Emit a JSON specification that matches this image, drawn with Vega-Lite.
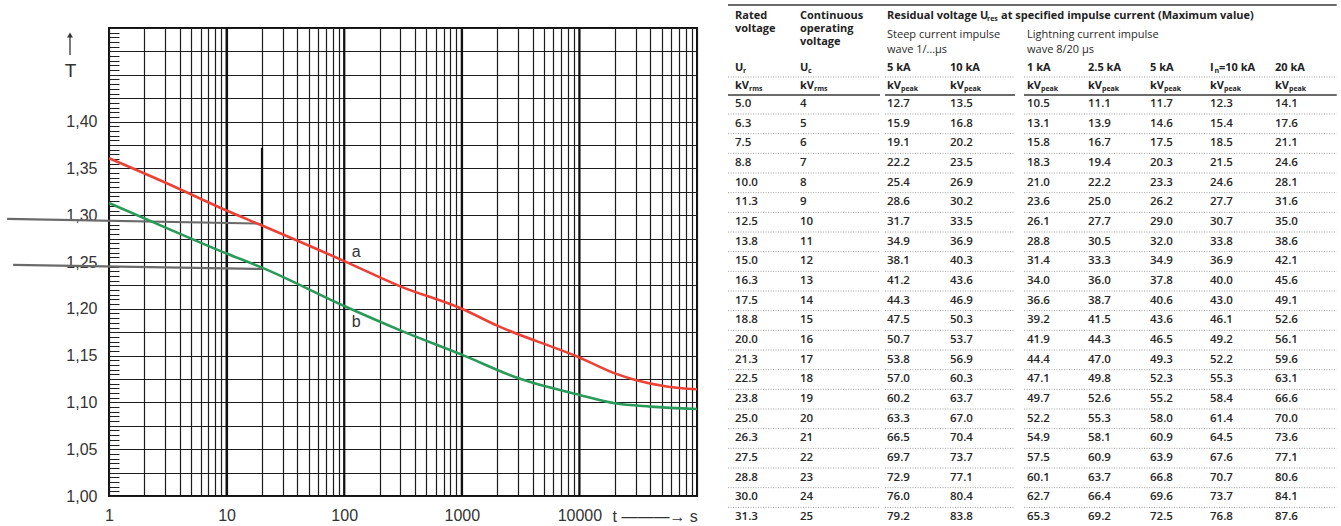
{
  "$schema": "https://vega.github.io/schema/vega-lite/v6.json",
  "background": "white",
  "padding": {"left": 1, "top": 4, "right": 0, "bottom": 0},
  "spacing": 16,
  "datasets": {
    "curves": [
      {"s": "a", "t": 1, "T": 1.361}, {"s": "a", "t": 3, "T": 1.335}, {"s": "a", "t": 10, "T": 1.305},
      {"s": "a", "t": 20, "T": 1.289}, {"s": "a", "t": 100, "T": 1.251}, {"s": "a", "t": 300, "T": 1.224},
      {"s": "a", "t": 1000, "T": 1.2}, {"s": "a", "t": 2000, "T": 1.182}, {"s": "a", "t": 10000, "T": 1.148},
      {"s": "a", "t": 20000, "T": 1.131}, {"s": "a", "t": 30000, "T": 1.124}, {"s": "a", "t": 55000, "T": 1.117},
      {"s": "a", "t": 100000, "T": 1.114},
      {"s": "b", "t": 1, "T": 1.313}, {"s": "b", "t": 3, "T": 1.287}, {"s": "b", "t": 10, "T": 1.259},
      {"s": "b", "t": 20, "T": 1.244}, {"s": "b", "t": 100, "T": 1.203}, {"s": "b", "t": 300, "T": 1.177},
      {"s": "b", "t": 1000, "T": 1.151}, {"s": "b", "t": 3000, "T": 1.126}, {"s": "b", "t": 10000, "T": 1.108},
      {"s": "b", "t": 20000, "T": 1.099}, {"s": "b", "t": 40000, "T": 1.0955}, {"s": "b", "t": 100000, "T": 1.093}
    ],
    "tab": [
      {"r":1,"c":1,"v":5.0},{"r":1,"c":2,"v":4},{"r":1,"c":3,"v":12.7},{"r":1,"c":4,"v":13.5},{"r":1,"c":5,"v":10.5},{"r":1,"c":6,"v":11.1},{"r":1,"c":7,"v":11.7},{"r":1,"c":8,"v":12.3},{"r":1,"c":9,"v":14.1},
      {"r":2,"c":1,"v":6.3},{"r":2,"c":2,"v":5},{"r":2,"c":3,"v":15.9},{"r":2,"c":4,"v":16.8},{"r":2,"c":5,"v":13.1},{"r":2,"c":6,"v":13.9},{"r":2,"c":7,"v":14.6},{"r":2,"c":8,"v":15.4},{"r":2,"c":9,"v":17.6},
      {"r":3,"c":1,"v":7.5},{"r":3,"c":2,"v":6},{"r":3,"c":3,"v":19.1},{"r":3,"c":4,"v":20.2},{"r":3,"c":5,"v":15.8},{"r":3,"c":6,"v":16.7},{"r":3,"c":7,"v":17.5},{"r":3,"c":8,"v":18.5},{"r":3,"c":9,"v":21.1},
      {"r":4,"c":1,"v":8.8},{"r":4,"c":2,"v":7},{"r":4,"c":3,"v":22.2},{"r":4,"c":4,"v":23.5},{"r":4,"c":5,"v":18.3},{"r":4,"c":6,"v":19.4},{"r":4,"c":7,"v":20.3},{"r":4,"c":8,"v":21.5},{"r":4,"c":9,"v":24.6},
      {"r":5,"c":1,"v":10.0},{"r":5,"c":2,"v":8},{"r":5,"c":3,"v":25.4},{"r":5,"c":4,"v":26.9},{"r":5,"c":5,"v":21.0},{"r":5,"c":6,"v":22.2},{"r":5,"c":7,"v":23.3},{"r":5,"c":8,"v":24.6},{"r":5,"c":9,"v":28.1},
      {"r":6,"c":1,"v":11.3},{"r":6,"c":2,"v":9},{"r":6,"c":3,"v":28.6},{"r":6,"c":4,"v":30.2},{"r":6,"c":5,"v":23.6},{"r":6,"c":6,"v":25.0},{"r":6,"c":7,"v":26.2},{"r":6,"c":8,"v":27.7},{"r":6,"c":9,"v":31.6},
      {"r":7,"c":1,"v":12.5},{"r":7,"c":2,"v":10},{"r":7,"c":3,"v":31.7},{"r":7,"c":4,"v":33.5},{"r":7,"c":5,"v":26.1},{"r":7,"c":6,"v":27.7},{"r":7,"c":7,"v":29.0},{"r":7,"c":8,"v":30.7},{"r":7,"c":9,"v":35.0},
      {"r":8,"c":1,"v":13.8},{"r":8,"c":2,"v":11},{"r":8,"c":3,"v":34.9},{"r":8,"c":4,"v":36.9},{"r":8,"c":5,"v":28.8},{"r":8,"c":6,"v":30.5},{"r":8,"c":7,"v":32.0},{"r":8,"c":8,"v":33.8},{"r":8,"c":9,"v":38.6},
      {"r":9,"c":1,"v":15.0},{"r":9,"c":2,"v":12},{"r":9,"c":3,"v":38.1},{"r":9,"c":4,"v":40.3},{"r":9,"c":5,"v":31.4},{"r":9,"c":6,"v":33.3},{"r":9,"c":7,"v":34.9},{"r":9,"c":8,"v":36.9},{"r":9,"c":9,"v":42.1},
      {"r":10,"c":1,"v":16.3},{"r":10,"c":2,"v":13},{"r":10,"c":3,"v":41.2},{"r":10,"c":4,"v":43.6},{"r":10,"c":5,"v":34.0},{"r":10,"c":6,"v":36.0},{"r":10,"c":7,"v":37.8},{"r":10,"c":8,"v":40.0},{"r":10,"c":9,"v":45.6},
      {"r":11,"c":1,"v":17.5},{"r":11,"c":2,"v":14},{"r":11,"c":3,"v":44.3},{"r":11,"c":4,"v":46.9},{"r":11,"c":5,"v":36.6},{"r":11,"c":6,"v":38.7},{"r":11,"c":7,"v":40.6},{"r":11,"c":8,"v":43.0},{"r":11,"c":9,"v":49.1},
      {"r":12,"c":1,"v":18.8},{"r":12,"c":2,"v":15},{"r":12,"c":3,"v":47.5},{"r":12,"c":4,"v":50.3},{"r":12,"c":5,"v":39.2},{"r":12,"c":6,"v":41.5},{"r":12,"c":7,"v":43.6},{"r":12,"c":8,"v":46.1},{"r":12,"c":9,"v":52.6},
      {"r":13,"c":1,"v":20.0},{"r":13,"c":2,"v":16},{"r":13,"c":3,"v":50.7},{"r":13,"c":4,"v":53.7},{"r":13,"c":5,"v":41.9},{"r":13,"c":6,"v":44.3},{"r":13,"c":7,"v":46.5},{"r":13,"c":8,"v":49.2},{"r":13,"c":9,"v":56.1},
      {"r":14,"c":1,"v":21.3},{"r":14,"c":2,"v":17},{"r":14,"c":3,"v":53.8},{"r":14,"c":4,"v":56.9},{"r":14,"c":5,"v":44.4},{"r":14,"c":6,"v":47.0},{"r":14,"c":7,"v":49.3},{"r":14,"c":8,"v":52.2},{"r":14,"c":9,"v":59.6},
      {"r":15,"c":1,"v":22.5},{"r":15,"c":2,"v":18},{"r":15,"c":3,"v":57.0},{"r":15,"c":4,"v":60.3},{"r":15,"c":5,"v":47.1},{"r":15,"c":6,"v":49.8},{"r":15,"c":7,"v":52.3},{"r":15,"c":8,"v":55.3},{"r":15,"c":9,"v":63.1},
      {"r":16,"c":1,"v":23.8},{"r":16,"c":2,"v":19},{"r":16,"c":3,"v":60.2},{"r":16,"c":4,"v":63.7},{"r":16,"c":5,"v":49.7},{"r":16,"c":6,"v":52.6},{"r":16,"c":7,"v":55.2},{"r":16,"c":8,"v":58.4},{"r":16,"c":9,"v":66.6},
      {"r":17,"c":1,"v":25.0},{"r":17,"c":2,"v":20},{"r":17,"c":3,"v":63.3},{"r":17,"c":4,"v":67.0},{"r":17,"c":5,"v":52.2},{"r":17,"c":6,"v":55.3},{"r":17,"c":7,"v":58.0},{"r":17,"c":8,"v":61.4},{"r":17,"c":9,"v":70.0},
      {"r":18,"c":1,"v":26.3},{"r":18,"c":2,"v":21},{"r":18,"c":3,"v":66.5},{"r":18,"c":4,"v":70.4},{"r":18,"c":5,"v":54.9},{"r":18,"c":6,"v":58.1},{"r":18,"c":7,"v":60.9},{"r":18,"c":8,"v":64.5},{"r":18,"c":9,"v":73.6},
      {"r":19,"c":1,"v":27.5},{"r":19,"c":2,"v":22},{"r":19,"c":3,"v":69.7},{"r":19,"c":4,"v":73.7},{"r":19,"c":5,"v":57.5},{"r":19,"c":6,"v":60.9},{"r":19,"c":7,"v":63.9},{"r":19,"c":8,"v":67.6},{"r":19,"c":9,"v":77.1},
      {"r":20,"c":1,"v":28.8},{"r":20,"c":2,"v":23},{"r":20,"c":3,"v":72.9},{"r":20,"c":4,"v":77.1},{"r":20,"c":5,"v":60.1},{"r":20,"c":6,"v":63.7},{"r":20,"c":7,"v":66.8},{"r":20,"c":8,"v":70.7},{"r":20,"c":9,"v":80.6},
      {"r":21,"c":1,"v":30.0},{"r":21,"c":2,"v":24},{"r":21,"c":3,"v":76.0},{"r":21,"c":4,"v":80.4},{"r":21,"c":5,"v":62.7},{"r":21,"c":6,"v":66.4},{"r":21,"c":7,"v":69.6},{"r":21,"c":8,"v":73.7},{"r":21,"c":9,"v":84.1},
      {"r":22,"c":1,"v":31.3},{"r":22,"c":2,"v":25},{"r":22,"c":3,"v":79.2},{"r":22,"c":4,"v":83.8},{"r":22,"c":5,"v":65.3},{"r":22,"c":6,"v":69.2},{"r":22,"c":7,"v":72.5},{"r":22,"c":8,"v":76.8},{"r":22,"c":9,"v":87.6}
    ],
    "head": [
      {"k": "b", "c": 1, "r": -3.474, "t": "Rated"},
      {"k": "b", "c": 2, "r": -3.474, "t": "Continuous"},
      {"k": "b", "c": 3, "r": -3.474, "t": "Residual voltage U"},
      {"k": "sr", "c": 3, "r": -3.474, "t": "res"},
      {"k": "tr", "c": 3, "r": -3.474, "t": "at specified impulse current (Maximum value)"},
      {"k": "b", "c": 1, "r": -2.814, "t": "voltage"},
      {"k": "b", "c": 2, "r": -2.814, "t": "operating"},
      {"k": "b", "c": 2, "r": -2.153, "t": "voltage"},
      {"k": "n", "c": 3, "r": -2.508, "t": "Steep current impulse"},
      {"k": "n", "c": 5, "r": -2.508, "t": "Lightning current impulse"},
      {"k": "n", "c": 3, "r": -1.746, "t": "wave 1/…µs"},
      {"k": "n", "c": 5, "r": -1.746, "t": "wave 8/20 µs"},
      {"k": "b", "c": 1, "r": -0.83, "t": "U"},
      {"k": "su", "c": 1, "r": -0.83, "t": "r"},
      {"k": "b", "c": 2, "r": -0.83, "t": "U"},
      {"k": "su", "c": 2, "r": -0.83, "t": "c"},
      {"k": "b", "c": 3, "r": -0.83, "t": "5 kA"},
      {"k": "b", "c": 4, "r": -0.83, "t": "10 kA"},
      {"k": "b", "c": 5, "r": -0.83, "t": "1 kA"},
      {"k": "b", "c": 6, "r": -0.83, "t": "2.5 kA"},
      {"k": "b", "c": 7, "r": -0.83, "t": "5 kA"},
      {"k": "b", "c": 8, "r": -0.83, "t": "I"},
      {"k": "sn", "c": 8, "r": -0.83, "t": "n"},
      {"k": "tn", "c": 8, "r": -0.83, "t": "=10 kA"},
      {"k": "b", "c": 9, "r": -0.83, "t": "20 kA"},
      {"k": "b", "c": 1, "r": 0.085, "t": "kV"}, {"k": "sk", "c": 1, "r": 0.085, "t": "rms"},
      {"k": "b", "c": 2, "r": 0.085, "t": "kV"}, {"k": "sk", "c": 2, "r": 0.085, "t": "rms"},
      {"k": "b", "c": 3, "r": 0.085, "t": "kV"}, {"k": "sk", "c": 3, "r": 0.085, "t": "peak"},
      {"k": "b", "c": 4, "r": 0.085, "t": "kV"}, {"k": "sk", "c": 4, "r": 0.085, "t": "peak"},
      {"k": "b", "c": 5, "r": 0.085, "t": "kV"}, {"k": "sk", "c": 5, "r": 0.085, "t": "peak"},
      {"k": "b", "c": 6, "r": 0.085, "t": "kV"}, {"k": "sk", "c": 6, "r": 0.085, "t": "peak"},
      {"k": "b", "c": 7, "r": 0.085, "t": "kV"}, {"k": "sk", "c": 7, "r": 0.085, "t": "peak"},
      {"k": "b", "c": 8, "r": 0.085, "t": "kV"}, {"k": "sk", "c": 8, "r": 0.085, "t": "peak"},
      {"k": "b", "c": 9, "r": 0.085, "t": "kV"}, {"k": "sk", "c": 9, "r": 0.085, "t": "peak"}
    ],
    "hrules": [
      {"k": "top", "r": -4.034, "a": 0, "b": 9.95},
      {"k": "u", "r": -0.373, "a": 0, "b": 2.92},
      {"k": "u", "r": -0.373, "a": 2.977, "b": 4.844},
      {"k": "u", "r": -0.373, "a": 4.961, "b": 9.95},
      {"k": "kv", "r": 0.542, "a": 0, "b": 2.92},
      {"k": "kv", "r": 0.542, "a": 2.977, "b": 4.844},
      {"k": "kv", "r": 0.542, "a": 4.961, "b": 9.95}
    ]
  },
  "hconcat": [
    {
      "width": 588,
      "height": 468,
      "view": {"stroke": "#111", "strokeWidth": 2},
      "layer": [
        {
          "data": {"values": [{"t": 10}, {"t": 100}, {"t": 1000}, {"t": 10000}]},
          "mark": {"type": "rule", "color": "#111", "strokeWidth": 2.2},
          "encoding": {"x": {"field": "t", "type": "quantitative"}}
        },
        {
          "data": {"values": [{"t": 20, "T": 1.372, "T2": 1.244}]},
          "mark": {"type": "rule", "color": "#111", "strokeWidth": 2.2},
          "encoding": {
            "x": {"field": "t", "type": "quantitative"},
            "y": {"field": "T", "type": "quantitative", "axis": null},
            "y2": {"field": "T2"}
          }
        },
        {
          "data": {"values": [
            {"g": 1, "t": 0.136, "T": 1.296}, {"g": 1, "t": 20, "T": 1.291},
            {"g": 2, "t": 0.153, "T": 1.247}, {"g": 2, "t": 20, "T": 1.2425}
          ]},
          "mark": {"type": "line", "color": "#6a6a6a", "strokeWidth": 2.2, "clip": false},
          "encoding": {
            "x": {"field": "t", "type": "quantitative"},
            "y": {"field": "T", "type": "quantitative", "axis": null},
            "detail": {"field": "g"}
          }
        },
        {
          "data": {"values": [{"t": 0.466, "T": 1.4712, "T2": 1.4925}]},
          "mark": {"type": "rule", "color": "#333", "strokeWidth": 1.3},
          "encoding": {
            "x": {"field": "t", "type": "quantitative"},
            "y": {"field": "T", "type": "quantitative", "axis": null},
            "y2": {"field": "T2"}
          }
        },
        {
          "data": {"values": [{"t": 0.466, "T": 1.4925}]},
          "mark": {"type": "point", "shape": "triangle-up", "size": 34, "filled": true, "color": "#333", "opacity": 1},
          "encoding": {
            "x": {"field": "t", "type": "quantitative"},
            "y": {"field": "T", "type": "quantitative", "axis": null}
          }
        },
        {
          "data": {"name": "curves"},
          "mark": {"type": "line", "interpolate": "monotone", "strokeWidth": 2.6},
          "encoding": {
            "x": {
              "field": "t", "type": "quantitative",
              "scale": {"type": "log", "domain": [1, 100000], "nice": false},
              "axis": {
                "values": [1,2,3,4,5,6,7,8,9,10,20,30,40,50,60,70,80,90,100,200,300,400,500,600,700,800,900,1000,2000,3000,4000,5000,6000,7000,8000,9000,10000,20000,30000,40000,50000,60000,70000,80000,90000,100000],
                "grid": true, "gridColor": "#1c1c1c", "gridWidth": 1.2,
                "ticks": false, "domain": false,
                "labelExpr": "indexof([1,10,100,1000,10000], datum.value) >= 0 ? format(datum.value, 'd') : ''",
                "labelFont": "Liberation Sans", "labelFontSize": 16, "labelColor": "#333",
                "labelPadding": 11, "labelFlush": false, "labelOverlap": false,
                "title": "t ———→ s", "titleX": 503, "titleY": 20, "titleAlign": "left", "titleBaseline": "middle",
                "titleFont": "Liberation Sans", "titleFontSize": 16, "titleFontWeight": "normal", "titleColor": "#333"
              }
            },
            "y": {
              "field": "T", "type": "quantitative",
              "scale": {"domain": [1, 1.5], "nice": false, "zero": false},
              "axis": {
                "values": [1,1.025,1.05,1.075,1.1,1.125,1.15,1.175,1.2,1.225,1.25,1.275,1.3,1.325,1.35,1.375,1.4,1.425,1.45,1.475,1.5],
                "grid": true, "gridColor": "#1c1c1c", "gridWidth": 1.2,
                "ticks": false, "domain": false,
                "labelExpr": "datum.value < 1.401 && abs(datum.value * 20 - round(datum.value * 20)) < 0.001 ? replace(format(datum.value, '.2f'), '.', ',') : ''",
                "labelFont": "Liberation Sans", "labelFontSize": 16, "labelColor": "#333",
                "labelPadding": 12, "labelOverlap": false,
                "title": "T", "titleAngle": 0, "titleX": -39, "titleY": 42,
                "titleAlign": "center", "titleBaseline": "middle",
                "titleFont": "Liberation Sans", "titleFontSize": 19, "titleFontWeight": "normal", "titleColor": "#333"
              }
            },
            "color": {
              "field": "s", "type": "nominal",
              "scale": {"domain": ["a", "b"], "range": ["#ec4134", "#2a9a5a"]},
              "legend": null
            }
          }
        },
        {
          "data": {"values": [{"t": 116, "T": 1.261, "s": "a"}, {"t": 116, "T": 1.186, "s": "b"}]},
          "mark": {"type": "text", "font": "Liberation Sans", "fontSize": 16, "color": "#333", "align": "left", "baseline": "middle"},
          "encoding": {
            "x": {"field": "t", "type": "quantitative"},
            "y": {"field": "T", "type": "quantitative", "axis": null},
            "text": {"field": "s"}
          }
        },
        {
          "data": {"name": "curves"},
          "mark": {"type": "point", "opacity": 0},
          "encoding": {
            "y": {
              "field": "T", "type": "quantitative",
              "axis": {
                "orient": "left", "tickCount": 100, "tickSize": -10, "tickColor": "#222", "tickWidth": 1,
                "labels": false, "domain": false, "grid": false, "title": null
              }
            }
          }
        }
      ],
      "resolve": {"axis": {"y": "independent"}}
    },
    {
      "width": 621,
      "height": 498,
      "view": {"stroke": null},
      "layer": [
        {
          "data": {"name": "tab"},
          "transform": [{"filter": "datum.c == 1"}],
          "mark": {"type": "rule", "color": "#8a8a8a", "strokeWidth": 0.8, "strokeDash": [1, 1.5], "yOffset": 10},
          "encoding": {
            "x": {"datum": 0, "type": "quantitative",
              "scale": {"domain": [0,1,2,3,4,5,6,7,8,9], "range": [8,15,80,167,230,307,368,430,490,555], "nice": false, "zero": false},
              "axis": null},
            "x2": {"datum": 2.92},
            "y": {"field": "r", "type": "quantitative",
              "scale": {"domain": [1, 22], "range": [76, 489], "nice": false, "zero": false},
              "axis": null}
          }
        },
        {
          "data": {"name": "tab"},
          "transform": [{"filter": "datum.c == 1"}],
          "mark": {"type": "rule", "color": "#8a8a8a", "strokeWidth": 0.8, "strokeDash": [1, 1.5], "yOffset": 10},
          "encoding": {
            "x": {"datum": 2.977, "type": "quantitative"},
            "x2": {"datum": 4.844},
            "y": {"field": "r", "type": "quantitative"}
          }
        },
        {
          "data": {"name": "tab"},
          "transform": [{"filter": "datum.c == 1"}],
          "mark": {"type": "rule", "color": "#8a8a8a", "strokeWidth": 0.8, "strokeDash": [1, 1.5], "yOffset": 10},
          "encoding": {
            "x": {"datum": 4.961, "type": "quantitative"},
            "x2": {"datum": 9.95},
            "y": {"field": "r", "type": "quantitative"}
          }
        },
        {
          "data": {"name": "hrules"},
          "transform": [{"filter": "datum.k == 'u'"}],
          "mark": {"type": "rule", "color": "#8a8a8a", "strokeWidth": 0.8, "strokeDash": [1, 1.5]},
          "encoding": {
            "x": {"field": "a", "type": "quantitative"},
            "x2": {"field": "b"},
            "y": {"field": "r", "type": "quantitative"}
          }
        },
        {
          "data": {"name": "hrules"},
          "transform": [{"filter": "datum.k != 'u'"}],
          "mark": {"type": "rule", "color": "#3a3a3a", "strokeWidth": 1.3},
          "encoding": {
            "x": {"field": "a", "type": "quantitative"},
            "x2": {"field": "b"},
            "y": {"field": "r", "type": "quantitative"}
          }
        },
        {
          "data": {"name": "tab"},
          "transform": [{"filter": "datum.c != 2"}],
          "mark": {"type": "text", "align": "left", "baseline": "middle", "font": "Open Sans", "fontSize": 11.5, "fontWeight": 600, "color": "#262626"},
          "encoding": {
            "x": {"field": "c", "type": "quantitative"},
            "y": {"field": "r", "type": "quantitative"},
            "text": {"field": "v", "type": "quantitative", "format": ".1f"}
          }
        },
        {
          "data": {"name": "tab"},
          "transform": [{"filter": "datum.c == 2"}],
          "mark": {"type": "text", "align": "left", "baseline": "middle", "font": "Open Sans", "fontSize": 11.5, "fontWeight": 600, "color": "#262626"},
          "encoding": {
            "x": {"field": "c", "type": "quantitative"},
            "y": {"field": "r", "type": "quantitative"},
            "text": {"field": "v", "type": "quantitative", "format": "d"}
          }
        },
        {
          "data": {"name": "head"},
          "transform": [{"filter": "datum.k == 'b'"}],
          "mark": {"type": "text", "align": "left", "baseline": "middle", "font": "Open Sans", "fontSize": 11, "fontWeight": "bold", "color": "#222"},
          "encoding": {
            "x": {"field": "c", "type": "quantitative"},
            "y": {"field": "r", "type": "quantitative"},
            "text": {"field": "t"}
          }
        },
        {
          "data": {"name": "head"},
          "transform": [{"filter": "datum.k == 'n'"}],
          "mark": {"type": "text", "align": "left", "baseline": "middle", "font": "Open Sans", "fontSize": 11, "fontWeight": "normal", "color": "#2a2a2a"},
          "encoding": {
            "x": {"field": "c", "type": "quantitative"},
            "y": {"field": "r", "type": "quantitative"},
            "text": {"field": "t"}
          }
        },
        {
          "data": {"name": "head"},
          "transform": [{"filter": "datum.k == 'su'"}],
          "mark": {"type": "text", "align": "left", "baseline": "middle", "font": "Open Sans", "fontSize": 7, "fontWeight": "bold", "color": "#222", "dx": 8, "dy": 3},
          "encoding": {
            "x": {"field": "c", "type": "quantitative"},
            "y": {"field": "r", "type": "quantitative"},
            "text": {"field": "t"}
          }
        },
        {
          "data": {"name": "head"},
          "transform": [{"filter": "datum.k == 'sk'"}],
          "mark": {"type": "text", "align": "left", "baseline": "middle", "font": "Open Sans", "fontSize": 7, "fontWeight": "bold", "color": "#222", "dx": 14, "dy": 3},
          "encoding": {
            "x": {"field": "c", "type": "quantitative"},
            "y": {"field": "r", "type": "quantitative"},
            "text": {"field": "t"}
          }
        },
        {
          "data": {"name": "head"},
          "transform": [{"filter": "datum.k == 'sr'"}],
          "mark": {"type": "text", "align": "left", "baseline": "middle", "font": "Open Sans", "fontSize": 7, "fontWeight": "bold", "color": "#222", "dx": 100, "dy": 3},
          "encoding": {
            "x": {"field": "c", "type": "quantitative"},
            "y": {"field": "r", "type": "quantitative"},
            "text": {"field": "t"}
          }
        },
        {
          "data": {"name": "head"},
          "transform": [{"filter": "datum.k == 'tr'"}],
          "mark": {"type": "text", "align": "left", "baseline": "middle", "font": "Open Sans", "fontSize": 11, "fontWeight": "bold", "color": "#222", "dx": 114},
          "encoding": {
            "x": {"field": "c", "type": "quantitative"},
            "y": {"field": "r", "type": "quantitative"},
            "text": {"field": "t"}
          }
        },
        {
          "data": {"name": "head"},
          "transform": [{"filter": "datum.k == 'sn'"}],
          "mark": {"type": "text", "align": "left", "baseline": "middle", "font": "Open Sans", "fontSize": 7, "fontWeight": "bold", "color": "#222", "dx": 4.5, "dy": 3},
          "encoding": {
            "x": {"field": "c", "type": "quantitative"},
            "y": {"field": "r", "type": "quantitative"},
            "text": {"field": "t"}
          }
        },
        {
          "data": {"name": "head"},
          "transform": [{"filter": "datum.k == 'tn'"}],
          "mark": {"type": "text", "align": "left", "baseline": "middle", "font": "Open Sans", "fontSize": 11, "fontWeight": "bold", "color": "#222", "dx": 9},
          "encoding": {
            "x": {"field": "c", "type": "quantitative"},
            "y": {"field": "r", "type": "quantitative"},
            "text": {"field": "t"}
          }
        }
      ]
    }
  ],
  "config": {
    "font": "Liberation Sans"
  }
}
